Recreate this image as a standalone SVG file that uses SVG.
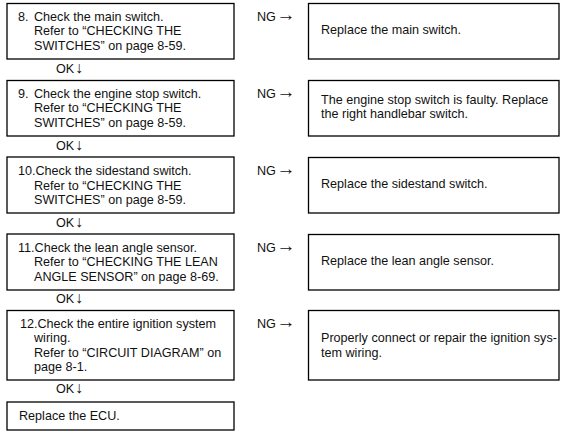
<svg xmlns="http://www.w3.org/2000/svg" width="565" height="447" viewBox="0 0 565 447">
<style>
.box{fill:#fff;stroke:#000;stroke-width:1.3}
text{font-family:"Liberation Sans",Arial,"DejaVu Sans",sans-serif;font-size:12.6px;fill:#111}
.ar{font-size:19px}
.ad{font-size:16px}
</style>
<rect width="565" height="447" fill="#fff"/>
<g id="step8"><rect class="box" x="7" y="3.5" width="227" height="55.5"/>
<text x="18" y="20.7">8.</text><text x="34" y="20.7">Check the main switch.</text><text x="34" y="35.2">Refer to “CHECKING THE</text><text x="34" y="49.5">SWITCHES” on page 8-59.</text></g>
<g id="step9"><rect class="box" x="7" y="80.5" width="227" height="55.5"/>
<text x="18" y="97.7">9.</text><text x="34" y="97.7">Check the engine stop switch.</text><text x="34" y="112.2">Refer to “CHECKING THE</text><text x="34" y="126.5">SWITCHES” on page 8-59.</text></g>
<g id="step10"><rect class="box" x="7" y="157" width="227" height="56"/>
<text x="18" y="175">10.Check the sidestand switch.</text><text x="34" y="189.5">Refer to “CHECKING THE</text><text x="34" y="203.8">SWITCHES” on page 8-59.</text></g>
<g id="step11"><rect class="box" x="7" y="234" width="227" height="56"/>
<text x="18" y="251.7">11.Check the lean angle sensor.</text><text x="34" y="266.2">Refer to “CHECKING THE LEAN</text><text x="34" y="280.5">ANGLE SENSOR” on page 8-69.</text></g>
<g id="step12"><rect class="box" x="7" y="310.5" width="227" height="69.5"/>
<text x="20" y="328">12.Check the entire ignition system</text><text x="34" y="342.3">wiring.</text><text x="34" y="356.7">Refer to “CIRCUIT DIAGRAM” on</text><text x="34" y="371">page 8-1.</text></g>
<g id="ecu"><rect class="box" x="7" y="402" width="227" height="28"/>
<text x="19" y="420">Replace the ECU.</text></g>
<g id="r8"><rect class="box" x="308.5" y="3.5" width="250.5" height="55.5"/>
<text x="321" y="34.3">Replace the main switch.</text></g>
<g id="r9"><rect class="box" x="308.5" y="80.5" width="250.5" height="55.5"/>
<text x="321" y="104">The engine stop switch is faulty. Replace</text><text x="321" y="118.3">the right handlebar switch.</text></g>
<g id="r10"><rect class="box" x="308.5" y="157.5" width="250.5" height="55.5"/>
<text x="321" y="188.3">Replace the sidestand switch.</text></g>
<g id="r11"><rect class="box" x="308.5" y="234.5" width="250.5" height="55.5"/>
<text x="321" y="265">Replace the lean angle sensor.</text></g>
<g id="r12"><rect class="box" x="308.5" y="310.5" width="250.5" height="69.5"/>
<text x="321" y="341.7">Properly connect or repair the ignition sys-</text><text x="321" y="356.7">tem wiring.</text></g>
<g id="connectors">
<text x="56" y="73">OK<tspan class="ad" x="75">↓</tspan></text>
<text x="56" y="149.5">OK<tspan class="ad" x="75">↓</tspan></text>
<text x="56" y="227">OK<tspan class="ad" x="75">↓</tspan></text>
<text x="56" y="302.7">OK<tspan class="ad" x="75">↓</tspan></text>
<text x="56" y="393">OK<tspan class="ad" x="75">↓</tspan></text>
<text x="257" y="20.7">NG<tspan class="ar" x="276.5">→</tspan></text>
<text x="257" y="97.7">NG<tspan class="ar" x="276.5">→</tspan></text>
<text x="257" y="175">NG<tspan class="ar" x="276.5">→</tspan></text>
<text x="257" y="251.7">NG<tspan class="ar" x="276.5">→</tspan></text>
<text x="257" y="328">NG<tspan class="ar" x="276.5">→</tspan></text>
</g>
</svg>
